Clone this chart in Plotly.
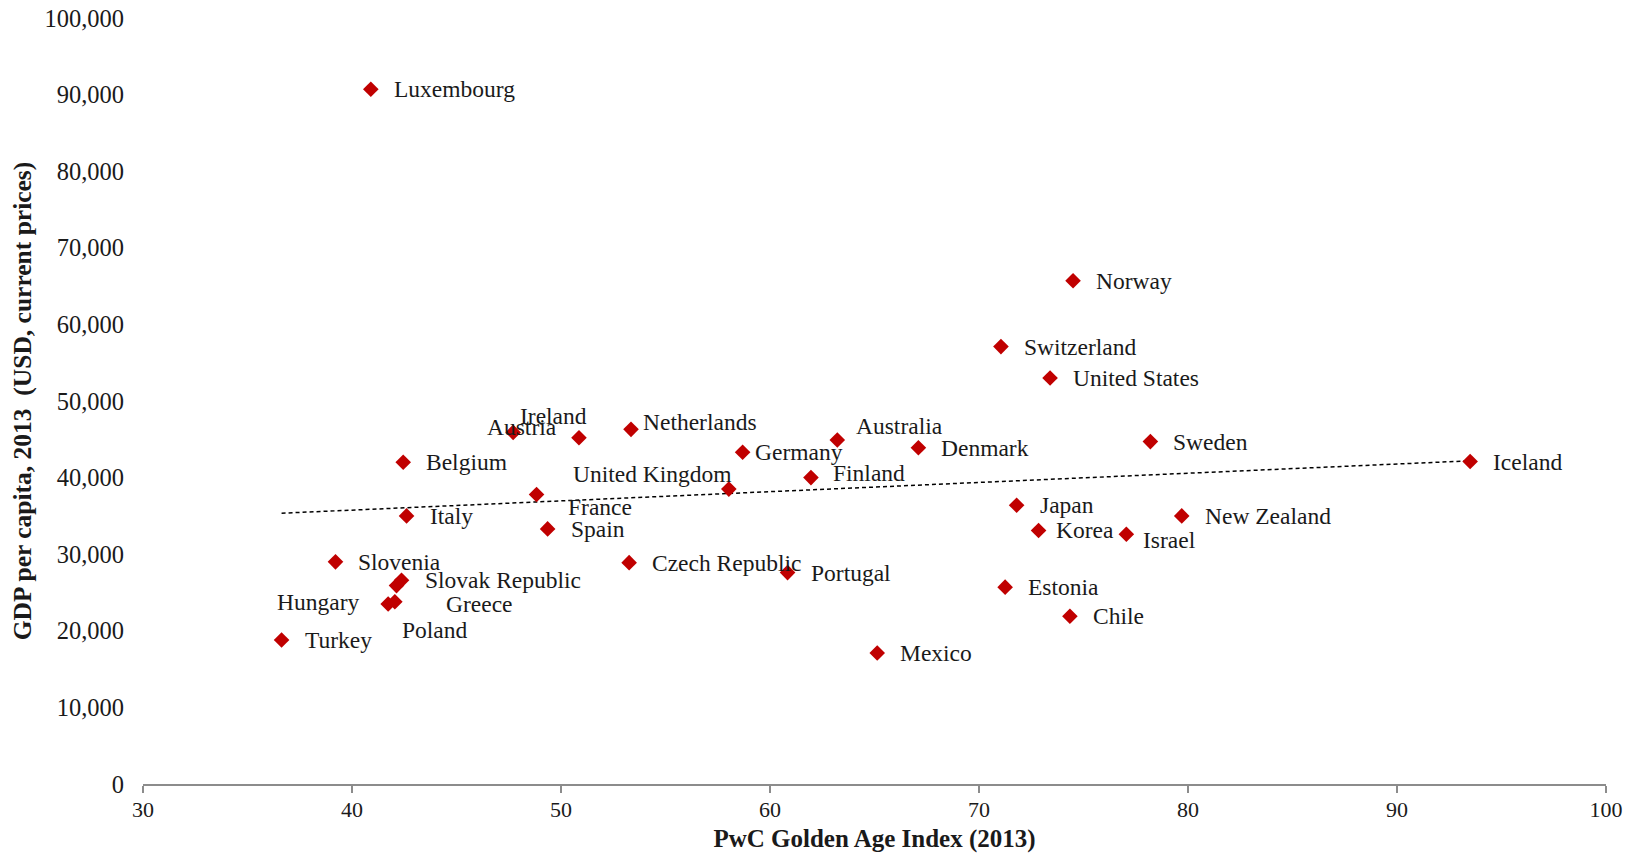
import numpy as np
import plotly.graph_objects as go

countries = ["Luxembourg", "Norway", "Switzerland", "United States", "Sweden", "Iceland",
             "Denmark", "Australia", "Finland", "Germany", "United Kingdom", "Netherlands",
             "Ireland", "Austria", "Belgium", "France", "Italy", "Spain", "Slovenia",
             "Czech Republic", "Portugal", "Slovak Republic", "Greece", "Hungary", "Poland",
             "Turkey", "Japan", "Korea", "Israel", "New Zealand", "Estonia", "Chile", "Mexico"]
golden_age_index = [40.9, 74.5, 71.05, 73.4, 78.2, 93.5,
                    67.1, 63.22, 61.96, 58.69, 58.03, 53.35,
                    50.86, 47.71, 42.45, 48.83, 42.61, 49.36, 39.21,
                    53.26, 60.84, 42.37, 42.13, 41.73, 42.05,
                    36.63, 71.8, 72.85, 77.05, 79.7, 71.25, 74.35, 65.13]
gdp_per_capita = [90700, 65700, 57100, 53000, 44700, 42100,
                  43900, 44900, 40000, 43300, 38500, 46300,
                  45200, 45900, 42000, 37800, 35000, 33300, 29000,
                  28900, 27600, 26600, 25900, 23500, 23800,
                  18800, 36400, 33100, 32600, 35000, 25700, 21900, 17100]

x_ticks = [30, 40, 50, 60, 70, 80, 90, 100]
y_ticks = [0, 10000, 20000, 30000, 40000, 50000, 60000, 70000, 80000, 90000, 100000]

FONT = "Georgia, 'Liberation Serif', serif"
RED = "#C00000"

# label placement (anchor, dx px, dy px downward)
label_pos = {
    "Australia": ("left", 17, -14),
    "Finland": ("left", 20, -5),
    "Germany": ("left", 10, 0),
    "United Kingdom": ("right", 5, -15),
    "Netherlands": ("left", 10, -7),
    "Ireland": ("center", -25, -22),
    "Austria": ("center", 9, -5),
    "France": ("left", 29, 13),
    "Greece": ("left", 47, 18),
    "Hungary": ("right", -27, -2),
    "Poland": ("left", 5, 28),
    "Korea": ("left", 15, 0),
    "Israel": ("left", 15, 6),
}

fig = go.Figure()

# linear trendline fitted to the data
coef = np.polyfit(golden_age_index, gdp_per_capita, 1)
tx = np.array([min(golden_age_index), max(golden_age_index)])
fig.add_trace(go.Scatter(x=tx, y=np.polyval(coef, tx), mode="lines",
                         line=dict(color="black", width=1.5, dash="4px,3px"),
                         hoverinfo="skip", showlegend=False))

fig.add_trace(go.Scatter(x=golden_age_index, y=gdp_per_capita, mode="markers",
                         marker=dict(symbol="diamond", size=12, color=RED),
                         text=countries, showlegend=False))

for c, xv, yv in zip(countries, golden_age_index, gdp_per_capita):
    anchor, dx, dy = label_pos.get(c, ("left", 21, 0))
    fig.add_annotation(x=xv, y=yv, xref="x", yref="y", text=c, showarrow=False,
                       xanchor=anchor, yanchor="middle", xshift=dx, yshift=-dy,
                       font=dict(family=FONT, size=23.5, color="#1a1a1a"))

fig.update_layout(
    width=1630, height=845,
    margin=dict(l=135, r=32, t=10, b=69),
    paper_bgcolor="white", plot_bgcolor="white",
    font=dict(family=FONT, size=20, color="#1a1a1a"),
)
fig.update_xaxes(range=[30, 100], tickvals=x_ticks, ticktext=[str(v) for v in x_ticks],
                 showgrid=False, zeroline=False, showline=True, linecolor="#8c8c8c", linewidth=2,
                 ticks="outside", ticklen=7, tickcolor="#8c8c8c", tickwidth=1.5,
                 ticklabelstandoff=-2, tickfont=dict(size=22), automargin=False,
                 title=dict(text="<b>PwC Golden Age Index (2013)</b>", font=dict(size=25), standoff=18))
fig.update_yaxes(range=[0, 100000], tickvals=y_ticks, ticktext=[f"{v:,}" for v in y_ticks],
                 showgrid=False, zeroline=False, showline=False, ticks="",
                 ticklabelstandoff=18, ticklabeloverflow="allow", tickfont=dict(size=24.5), automargin=False,
                 title=dict(text="<b>GDP per capita, 2013  (USD, current prices)</b>", font=dict(size=25.5), standoff=12))

fig.write_html("out.html")
